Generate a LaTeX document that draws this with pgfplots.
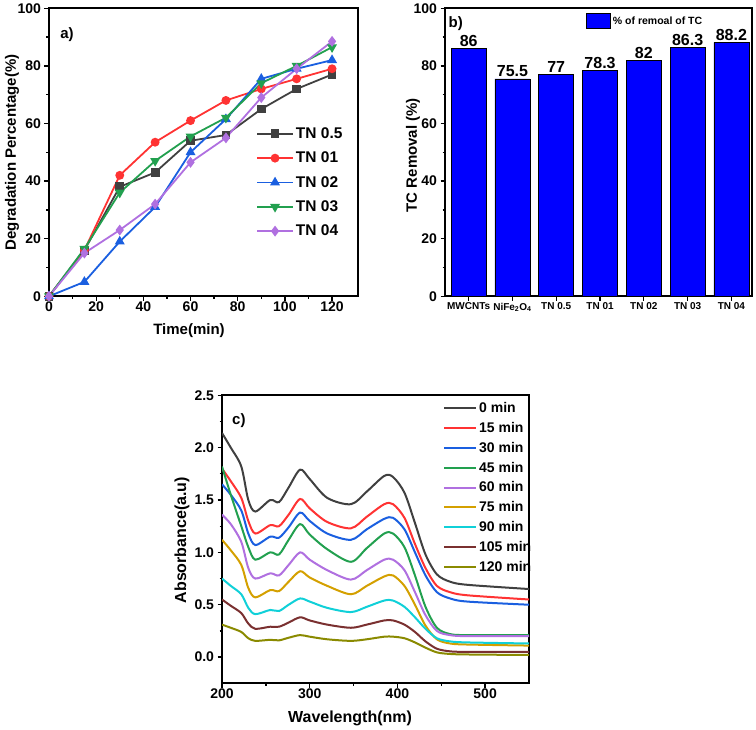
\documentclass[border=0pt]{standalone}
\usepackage{fontspec}
\setmainfont{Liberation Sans}
\usepackage{pgfplots}
\pgfplotsset{compat=1.18}
\definecolor{cg}{HTML}{404040}
\definecolor{cr}{HTML}{FF3333}
\definecolor{cb}{HTML}{1A5FE0}
\definecolor{cgr}{HTML}{22A04F}
\definecolor{cv}{HTML}{B070E0}
\definecolor{cgold}{HTML}{D4A000}
\definecolor{ccy}{HTML}{10D0D8}
\definecolor{cbr}{HTML}{7A3030}
\definecolor{col}{HTML}{8A8A00}
\pgfplotsset{
  myax/.style={scale only axis, anchor=south west,
    axis line style={line width=2pt},
    tick align=outside, tick pos=left,
    major tick length=4.5pt, minor tick length=2.5pt,
    tick style={line width=1.3pt, black},
    /pgf/number format/assume math mode=true,
    tick label style={font=\bfseries\fontsize{14}{14}\selectfont},
    xticklabel style={inner sep=1pt},
  }
}
\begin{document}
\begin{tikzpicture}
\path (0pt,0pt) rectangle (756pt,728pt);
% ---------- panel a
\begin{axis}[myax, at={(49pt,433pt)}, width=309pt, height=288pt,
  xmin=0, xmax=131, ymin=0, ymax=100,
  xtick={0,20,...,120}, ytick={0,20,...,100}, minor tick num=1,
  xlabel={Time(min)}, ylabel={Degradation Percentage(\%)},
  every axis x label/.style={at={(axis description cs:0.453,-0.118)}, anchor=center, font=\bfseries\fontsize{15}{15}\selectfont},
  every axis y label/.style={at={(axis description cs:-0.12,0.5)}, rotate=90, anchor=center, font=\bfseries\fontsize{15}{15}\selectfont},
  legend image code/.code={\draw[mark repeat=2,mark phase=2,#1] plot coordinates {(0pt,0pt) (18pt,0pt) (36pt,0pt)};},
  legend style={draw=none, fill=none, at={(rel axis cs:0.66,0.60)}, anchor=north west,
    font=\bfseries\fontsize{15.5}{15.5}\selectfont, row sep=8pt},
  legend cell align=left,
  every axis plot/.append style={line width=1.8pt, mark size=3.5pt},
]
\addplot[cg, mark=square*] coordinates {(0,0) (15,16) (30,38) (45,43) (60,54) (75,56) (90,65) (105,72) (120,77)};
\addplot[cr, mark=*] coordinates {(0,0) (15,16) (30,42) (45,53.5) (60,61) (75,68) (90,72) (105,75.5) (120,79)};
\addplot[cb, mark=triangle*, mark size=4pt] coordinates {(0,0) (15,5) (30,19) (45,31) (60,50) (75,61.5) (90,75.5) (105,79) (120,82)};
\addplot[cgr, mark=triangle*, mark size=4pt, mark options={rotate=180}] coordinates {(0,0) (15,16.5) (30,36) (45,47) (60,55.5) (75,62) (90,74) (105,80) (120,86.5)};
\addplot[cv, mark=diamond*, mark size=4pt] coordinates {(0,0) (15,15) (30,23) (45,32) (60,46.5) (75,55) (90,69) (105,79) (120,88.5)};
\legend{TN 0.5, TN 01, TN 02, TN 03, TN 04}
\node[font=\bfseries\fontsize{15}{15}\selectfont] at (rel axis cs:0.058,0.91) {a)};
\end{axis}
% ---------- panel b
\begin{axis}[myax, at={(445pt,433pt)}, width=307pt, height=288pt,
  xmin=-0.54, xmax=6.47, ymin=0, ymax=100,
  ytick={0,20,...,100}, minor y tick num=1,
  xtick={0,...,6}, xticklabels={MWCNTs, NiFe\textsubscript{2}O\textsubscript{4}, TN 0.5, TN 01, TN 02, TN 03, TN 04},
  x tick label style={font=\bfseries\fontsize{10}{10}\selectfont, inner sep=2pt},
  ylabel={TC Removal (\%)},
  every axis y label/.style={at={(axis description cs:-0.104,0.49)}, rotate=90, anchor=center, font=\bfseries\fontsize{15}{15}\selectfont},
  ybar, bar width=35pt,
  nodes near coords, nodes near coords style={font=\bfseries\fontsize{16}{16}\selectfont, inner sep=1.5pt},
  legend image code/.code={\draw[#1] (0pt,-7pt) rectangle (24pt,8pt);},
  legend style={draw=none, fill=none, at={(rel axis cs:0.45,0.99)}, anchor=north west,
    font=\bfseries\fontsize{10.5}{10.5}\selectfont},
]
\addplot[fill=blue, draw=black, line width=0.6pt] coordinates {(0,86) (1,75.5) (2,77) (3,78.3) (4,82) (5,86.3) (6,88.2)};
\legend{\% of remoal of TC}
\node[font=\bfseries\fontsize{15}{15}\selectfont] at (rel axis cs:0.035,0.948) {b)};
\end{axis}
% ---------- panel c
\begin{axis}[myax, at={(222pt,46pt)}, width=307pt, height=288pt,
  xmin=200, xmax=550, ymin=-0.25, ymax=2.5,
  xtick={200,300,400,500}, ytick={0,0.5,...,2.5}, minor tick num=1,
  yticklabel style={/pgf/number format/.cd, fixed, fixed zerofill, precision=1},
  xlabel={Wavelength(nm)}, ylabel={Absorbance(a.u)},
  every axis x label/.style={at={(axis description cs:0.417,-0.122)}, anchor=center, font=\bfseries\fontsize{16}{16}\selectfont},
  every axis y label/.style={at={(axis description cs:-0.13,0.497)}, rotate=90, anchor=center, font=\bfseries\fontsize{16}{16}\selectfont},
  legend image code/.code={\draw[#1] (0pt,0pt) -- (32pt,0pt);},
  legend style={draw=none, fill=none, at={(rel axis cs:0.71,0.99)}, anchor=north west,
    font=\bfseries\fontsize{14}{14}\selectfont, row sep=4.2pt},
  legend cell align=left,
  every axis plot/.append style={line width=2pt, smooth, no marks},
]
\addplot[cg] coordinates {(200,2.14) (210,2.0) (222,1.82) (230,1.50) (238,1.39) (255,1.50) (265,1.48) (276,1.62) (289,1.79) (300,1.70) (320,1.52) (347,1.46) (365,1.58) (385,1.73) (395,1.72) (408,1.57) (420,1.28) (432,0.98) (445,0.79) (460,0.72) (480,0.69) (550,0.65)};
\addplot[cr] coordinates {(200,1.80) (210,1.68) (222,1.52) (230,1.30) (238,1.18) (255,1.26) (265,1.25) (276,1.36) (289,1.51) (300,1.42) (320,1.29) (347,1.23) (365,1.34) (385,1.46) (395,1.46) (408,1.33) (420,1.08) (432,0.85) (445,0.68) (460,0.62) (480,0.59) (550,0.55)};
\addplot[cb] coordinates {(200,1.65) (210,1.55) (222,1.40) (230,1.18) (238,1.07) (255,1.15) (265,1.14) (276,1.24) (289,1.38) (300,1.30) (320,1.18) (347,1.12) (365,1.22) (385,1.32) (395,1.33) (408,1.22) (420,1.00) (432,0.78) (445,0.62) (460,0.56) (480,0.53) (550,0.50)};
\addplot[cgr] coordinates {(200,1.82) (210,1.55) (222,1.25) (230,1.05) (238,0.93) (255,1.00) (265,0.98) (276,1.12) (289,1.27) (300,1.17) (320,1.03) (347,0.91) (365,1.04) (385,1.18) (395,1.18) (408,1.05) (420,0.78) (432,0.48) (445,0.28) (460,0.22) (480,0.21) (550,0.21)};
\addplot[cv] coordinates {(200,1.36) (210,1.27) (222,1.10) (230,0.85) (238,0.75) (255,0.80) (265,0.78) (276,0.88) (289,1.00) (300,0.93) (320,0.83) (347,0.74) (365,0.83) (385,0.93) (395,0.93) (408,0.83) (420,0.62) (432,0.40) (445,0.25) (460,0.21) (480,0.20) (550,0.20)};
\addplot[cgold] coordinates {(200,1.12) (210,1.02) (222,0.88) (230,0.66) (238,0.57) (255,0.64) (265,0.63) (276,0.72) (289,0.82) (300,0.76) (320,0.68) (347,0.60) (365,0.68) (385,0.77) (395,0.78) (408,0.68) (420,0.50) (432,0.30) (445,0.17) (460,0.13) (480,0.12) (550,0.11)};
\addplot[ccy] coordinates {(200,0.75) (210,0.68) (222,0.60) (230,0.47) (238,0.41) (255,0.45) (265,0.44) (276,0.50) (289,0.56) (300,0.53) (320,0.47) (347,0.43) (365,0.48) (385,0.54) (395,0.54) (408,0.48) (420,0.38) (432,0.27) (445,0.18) (460,0.15) (480,0.14) (550,0.13)};
\addplot[cbr] coordinates {(200,0.55) (210,0.49) (222,0.42) (230,0.32) (238,0.27) (255,0.29) (265,0.29) (276,0.33) (289,0.38) (300,0.35) (320,0.31) (347,0.28) (365,0.31) (385,0.35) (395,0.35) (408,0.31) (420,0.24) (432,0.15) (445,0.08) (460,0.055) (480,0.05) (550,0.05)};
\addplot[col] coordinates {(200,0.31) (210,0.28) (222,0.24) (230,0.18) (238,0.155) (255,0.165) (265,0.16) (276,0.185) (289,0.21) (300,0.195) (320,0.17) (347,0.155) (365,0.17) (385,0.195) (395,0.195) (408,0.18) (420,0.14) (432,0.09) (445,0.045) (460,0.03) (480,0.025) (550,0.02)};
\legend{0 min, 15 min, 30 min, 45 min, 60 min, 75 min, 90 min, 105 min, 120 min}
\node[font=\bfseries\fontsize{15}{15}\selectfont] at (rel axis cs:0.055,0.913) {c)};
\end{axis}
\end{tikzpicture}
\end{document}
